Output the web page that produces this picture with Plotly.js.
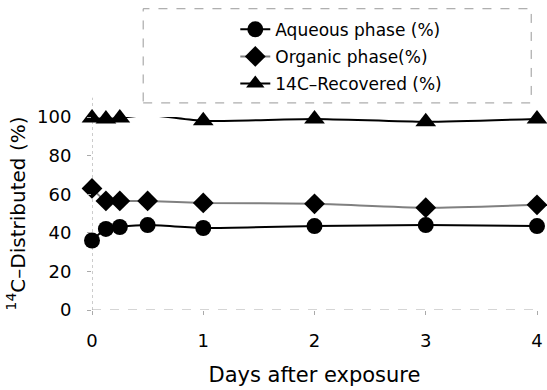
<!DOCTYPE html>
<html>
<head>
<meta charset="utf-8">
<script src="https://cdn.plot.ly/plotly-3.0.1.min.js"></script>
<style>html,body{margin:0;padding:0;background:#fff;}#chart{width:547px;height:390px;}</style>
</head>
<body>
<div id="chart"></div>
<script>
// Data
const days = [0, 0.125, 0.25, 0.5, 1, 2, 3, 4];
const aqueous = [36, 42, 43, 44, 42.5, 43.5, 44, 43.5];
const organic = [63, 56.5, 56.5, 56.5, 55.5, 55, 53, 54.5];
const recovered = [99.5, 99, 99.5, 101, 98, 99, 97.5, 99];
const seriesNames = ["Aqueous phase (%)", "Organic phase(%)", "14C\u2013Recovered (%)"];
const yTicks = [0, 20, 40, 60, 80, 100];
const xTicks = [0, 1, 2, 3, 4];

const FONT = "DejaVu Sans, Arial, sans-serif";

const traces = [
  {x: days, y: aqueous, name: seriesNames[0], mode: "lines+markers", legendgroup: "a",
   line: {color: "#000", width: 2, shape: "spline", smoothing: 0.6},
   marker: {symbol: "circle", size: 16, color: "#000"}, cliponaxis: false},
  {x: days, y: organic, name: seriesNames[1], mode: "lines+markers", legendgroup: "b",
   line: {color: "#808080", width: 2, shape: "spline", smoothing: 0.6},
   marker: {symbol: "diamond", size: 16, color: "#000"}, cliponaxis: false},
  {x: days, y: recovered, name: seriesNames[2], mode: "lines+markers", legendgroup: "c",
   line: {color: "#000", width: 2, shape: "spline", smoothing: 0.6},
   marker: {symbol: "triangle-up", size: 18, color: "#000"}, cliponaxis: false}
];

const layout = {
  width: 547, height: 390,
  margin: {l: 92, r: 10, t: 117, b: 80, pad: 0},
  paper_bgcolor: "#fff", plot_bgcolor: "#fff",
  font: {family: FONT, size: 18, color: "#000"},
  showlegend: true,
  legend: {x: 0.322, y: 1.545, xanchor: "left", yanchor: "top",
           bgcolor: "rgba(0,0,0,0)", borderwidth: 0,
           font: {family: FONT, size: 17, color: "#000"}, tracegroupgap: 2},
  xaxis: {range: [0, 4], tickvals: xTicks, showgrid: false, zeroline: false,
          showline: false, ticks: "outside", ticklen: 4, tickcolor: "#aaa",
          ticklabelstandoff: 10,
          tickfont: {family: FONT, size: 18, color: "#000"},
          title: {text: "Days after exposure", standoff: 17,
                  font: {family: FONT, size: 21, color: "#000"}}},
  yaxis: {range: [0, 100], tickvals: yTicks, showgrid: false, zeroline: false,
          showline: false, ticks: "outside", ticklen: 4, tickcolor: "#aaa",
          ticklabelstandoff: 12,
          tickfont: {family: FONT, size: 18, color: "#000"},
          title: {text: "<sup>14</sup>C\u2013Distributed (%)", standoff: 6,
                  font: {family: FONT, size: 20, color: "#000"}}},
  shapes: [
    {type: "line", xref: "x", yref: "paper", x0: 0, x1: 0, y0: 0, y1: 1.1,
     line: {color: "#999", width: 1, dash: "dot"}, layer: "below"},
    {type: "line", xref: "paper", yref: "y", x0: 0, x1: 1, y0: 0, y1: 0,
     line: {color: "#aaa", width: 1, dash: "dash"}, layer: "below"},
    {type: "rect", xref: "paper", yref: "paper", x0: 0.115, x1: 0.987, y0: 1.073, y1: 1.561,
     line: {color: "#999", width: 1, dash: "dash"}, layer: "below"}
  ]
};

Plotly.newPlot("chart", traces, layout, {displayModeBar: false, staticPlot: true});
</script>
</body>
</html>
